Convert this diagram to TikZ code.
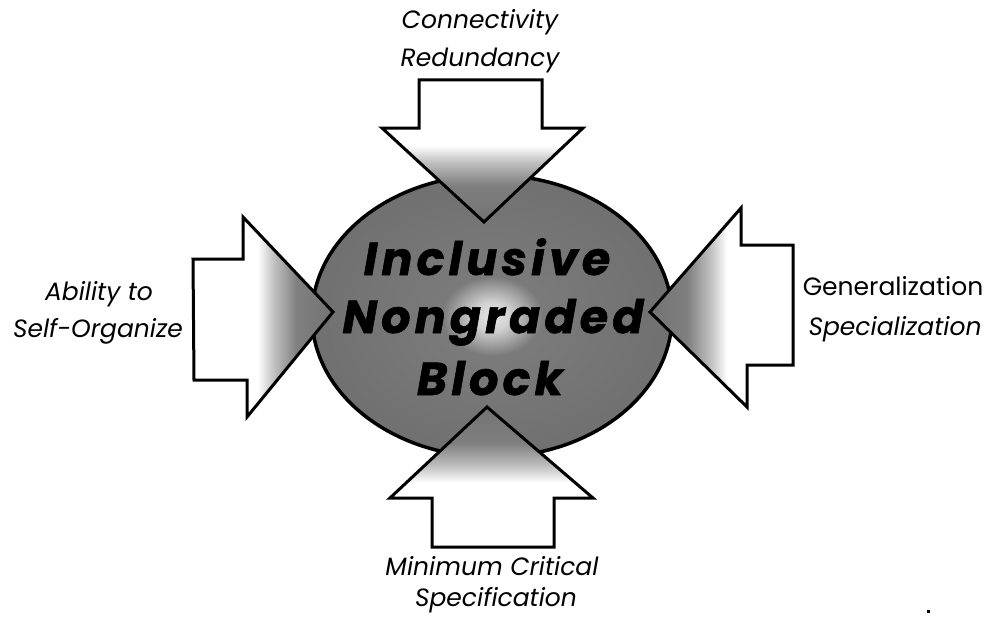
\documentclass[tikz,border=0pt]{standalone}
\usepackage{fontspec}
\setmainfont{Poppins}
\newfontfamily\hubfont{Poppins}[LetterSpace=9, BoldItalicFeatures={FakeBold=1.2}]
\usetikzlibrary{shapes.geometric}
\pgfdeclareradialshading{hubspot}{\pgfpoint{0bp}{0bp}}{color(0bp)=(black!10); color(2.5bp)=(black!18); color(7bp)=(black!52); color(25bp)=(black!56); color(50bp)=(black!56)}
\pgfdeclareverticalshading{arrowfade}{100bp}{color(0bp)=(black!55); color(25bp)=(black!55); color(38bp)=(black!50); color(46bp)=(black!25); color(52bp)=(white); color(100bp)=(white)}
\tikzset{
  blockarrow/.style={draw=black, line width=3pt, line join=miter, shading=arrowfade},
  hubtext/.style={font=\hubfont\bfseries\itshape\fontsize{46}{50}\selectfont, anchor=base, inner sep=0pt},
  labeltext/.style={font=\itshape\fontsize{25}{30}\selectfont, anchor=base, inner sep=0pt},
  labelup/.style={font=\fontsize{25}{30}\selectfont, anchor=base, inner sep=0pt}
}
\begin{document}
\begin{tikzpicture}[x=1pt, y=-1pt]
\useasboundingbox (0,0) rectangle (989,618);
% central ellipse
\node[ellipse, draw=black, line width=3.5pt, shading=hubspot, minimum width=360pt, minimum height=282pt, inner sep=0pt] (hub) at (492,316) {};
% arrows
\draw[blockarrow] (419,80) -- (542,80) -- (542,128) -- (583,128) -- (484,222) -- (382,128) -- (419,128) -- cycle;
\draw[blockarrow, shading angle=180] (432,547) -- (554,547) -- (554,498) -- (593,498) -- (487,407) -- (390,498) -- (432,498) -- cycle;
\draw[blockarrow, shading angle=90] (193,259) -- (243,259) -- (243,217) -- (333,312) -- (247,417) -- (247,380) -- (194,380) -- cycle;
\draw[blockarrow, shading angle=-90] (793,245) -- (741,245) -- (741,208) -- (650,312) -- (747,407) -- (747,365) -- (793,365) -- cycle;
% central text
\node[hubtext] (inc) at (487,275) {Inclusive};
\node[hubtext] (non) at (493,333) {Nongraded};
\node[hubtext] (blk) at (490,395) {Block};
% labels
\node[labeltext] (top1) at (480,29) {Connectivity};
\node[labeltext] (top2) at (480,67) {Redundancy};
\node[labeltext] (left1) at (99,300) {Ability to};
\node[labeltext] (left2) at (98,337) {Self-Organize};
\node[labelup] (right1) at (893,295) {Generalization};
\node[labeltext] (right2) at (895,335) {Specialization};
\node[labeltext] (bot1) at (492,575) {Minimum Critical};
\node[labeltext] (bot2) at (496,606) {Specification};
% stray dot
\fill (927,610) rectangle (929.5,612.5);
\end{tikzpicture}
\end{document}
